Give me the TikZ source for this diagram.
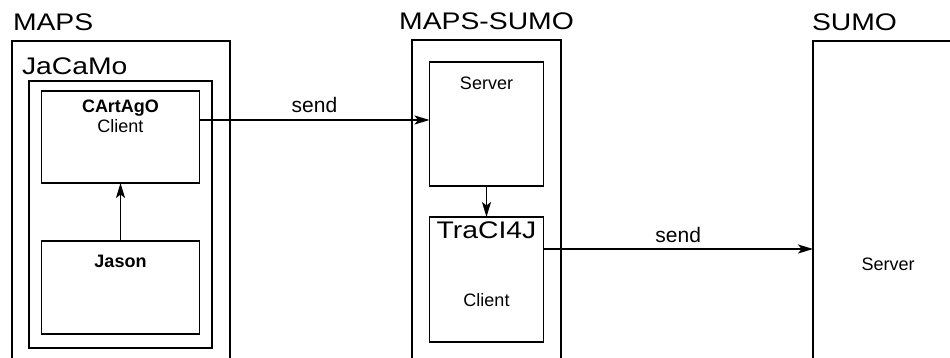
\documentclass[tikz,border=0pt]{standalone}
\usepackage{fontspec}
\setmainfont{Liberation Sans}
\newfontfamily\titlefont[FakeStretch=1.18]{Liberation Sans}
\usetikzlibrary{positioning,arrows.meta}

\begin{document}
\begin{tikzpicture}
[x=1pt,y=-1pt,
 every node/.style={inner sep=0pt,outer sep=0pt},
 box/.style={rectangle,draw=black,line width=1.5pt},
 head/.style={font=\titlefont\fontsize{24}{28}\selectfont},
 txt/.style={font=\fontsize{18}{20}\selectfont,align=center},
 lbl/.style={font=\fontsize{21}{24}\selectfont},
 arr/.style={->,line width=1.7pt},
 >={Stealth[length=15pt,width=9pt,inset=3.5pt]},
 line width=1.5pt]
\useasboundingbox (0,0) rectangle (950,358);
\clip (0,0) rectangle (950,358);

% the three systems, cut off at the bottom
\node[box,anchor=north west,minimum width=218pt,minimum height=340pt] (maps)     at (12,41)  {};
\node[box,anchor=north west,minimum width=149pt,minimum height=340pt] (mapssumo) at (412,40) {};
\node[box,anchor=north west,minimum width=200pt,minimum height=340pt] (sumo)     at (813,41) {};
\node[head] (mapsT)     [above right=10pt and 1pt of maps.north west]  {MAPS};
\node[head] (mapssumoT) [above=10pt of mapssumo.north]                 {MAPS-SUMO};
\node[head] (sumoT)     [above right=10pt and -1pt of sumo.north west] {SUMO};

% MAPS
\node[box,anchor=north west,minimum width=183pt,minimum height=267pt] (jacamo) at (29,81) {};
\node[head] (jacamoT) [above right=6pt and -7pt of jacamo.north west] {JaCaMo};
\node[box,minimum width=158pt,minimum height=92pt] (cartago) [below=10pt of jacamo.north] {};
\node[box,minimum width=158pt,minimum height=93pt] (jason)   [below=58pt of cartago]      {};
\node[txt] (cartagoT) [below=9pt of cartago.north] {\textbf{CArtAgO}\\Client};
\node[txt] (jasonT)   [below=14pt of jason.north]  {\textbf{Jason}};

% MAPS-SUMO
\node[box,minimum width=114pt,minimum height=124pt] (server) [below=22pt of mapssumo.north] {};
\node[box,minimum width=114pt,minimum height=125pt] (traci)  [below=31pt of server]         {};
\node[txt]  (serverT)      [below=15pt of server.north] {Server};
\node[head] (traciT)       [below=5pt of traci.north]   {TraCI4J};
\node[txt]  (traciClientT) [above=35pt of traci.south]  {Client};

% SUMO
\node[txt] (sumoServerT) at (888,264) {Server};

\draw[arr] (jason) -- (cartago);
\draw[arr] (server) -- (traci);
\draw[arr] ([yshift=17pt]cartago.east) -- ([yshift=17pt]cartago.east -| server.west)
  node[lbl,midway,above=7pt] {send};
\draw[arr] ([yshift=30.5pt]traci.east) -- ([yshift=30.5pt]traci.east -| sumo.west)
  node[lbl,midway,above=6pt] {send};
\end{tikzpicture}
\end{document}
